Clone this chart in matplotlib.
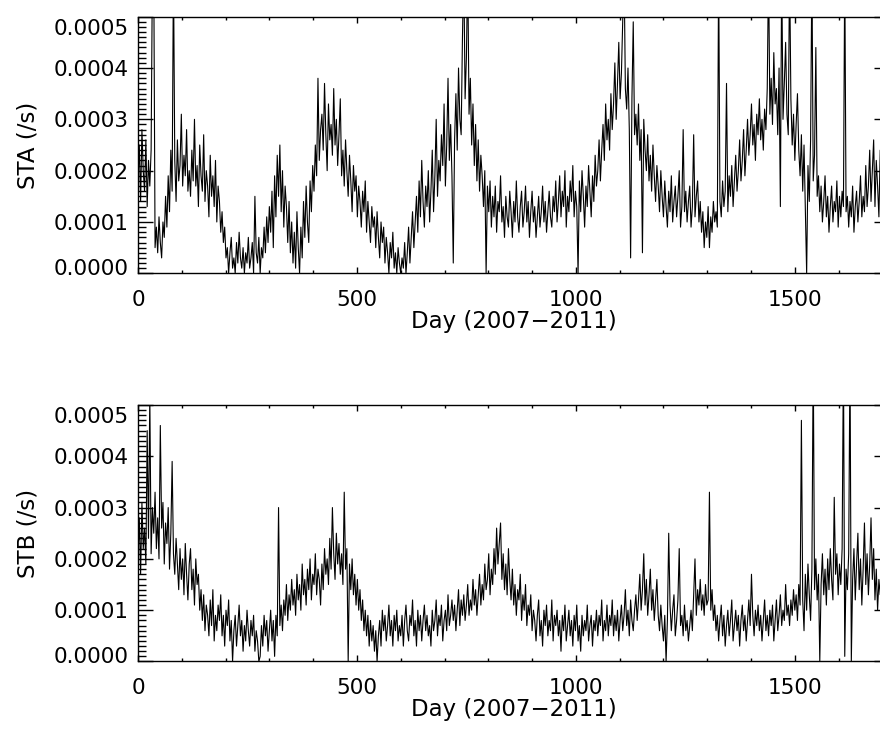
import numpy as np
import matplotlib
matplotlib.use('Agg')
import matplotlib.pyplot as plt
import matplotlib.transforms as mtransforms
from matplotlib.ticker import MultipleLocator, FormatStrFormatter

# ---------------------
# DATA (rates in units of 1e-5 /s, one value every 3 days)
# ---------------------
step_days = 3

sta_rate = [
    18, 25, 14, 28, 20, 16, 26, 13, 22, 17, 24, 60, 60, 5, 9, 4, 11, 6, 3, 10,
    7, 15, 9, 19, 12, 24, 16, 60, 22, 14, 26, 18, 21, 31, 17, 23, 19, 28, 16, 20,
    15, 24, 18, 30, 17, 21, 13, 25, 19, 16, 27, 14, 20, 17, 11, 23, 15, 19, 13, 22,
    10, 17, 14, 8, 12, 6, 9, 3, 5, 0, 4, 7, 1, 3, 0, 6, 2, 8, 3, 1,
    5, 0, 4, 2, 7, 1, 3, 6, 0, 15, 4, 2, 7, 0, 5, 3, 9, 4, 11, 6,
    13, 8, 16, 5, 19, 11, 23, 15, 25, 12, 20, 9, 17, 13, 6, 14, 4, 10, 2, 8,
    1, 12, 5, 0, 9, 3, 14, 7, 17, 10, 6, 18, 12, 21, 16, 25, 19, 38, 22, 28,
    31, 24, 37, 27, 20, 33, 26, 29, 23, 36, 25, 30, 21, 27, 34, 19, 24, 17, 26, 20,
    15, 23, 18, 12, 21, 16, 19, 11, 17, 14, 9, 16, 12, 18, 8, 14, 10, 6, 13, 9,
    11, 5, 12, 7, 3, 10, 6, 9, 2, 7, 4, 0, 6, 3, 8, 1, 4, 0, 5, 2,
    0, 3, 1, 6, 0, 4, 9, 2, 7, 12, 5, 10, 15, 8, 18, 11, 22, 14, 9, 17,
    13, 20, 10, 16, 24, 12, 19, 30, 15, 22, 18, 27, 21, 33, 17, 25, 38, 22, 29, 19,
    2, 26, 35, 24, 40, 30, 27, 46, 60, 34, 42, 60, 31, 38, 25, 33, 21, 29, 18, 26,
    16, 23, 19, 13, 20, 0, 17, 12, 18, 9, 15, 11, 17, 8, 14, 12, 19, 10, 13, 7,
    15, 11, 9, 16, 12, 7, 14, 10, 18, 11, 8, 13, 16, 9, 12, 17, 10, 14, 7, 12,
    16, 10, 13, 7, 11, 15, 9, 12, 17, 10, 14, 8, 12, 16, 11, 9, 15, 12, 18, 10,
    14, 19, 11, 16, 13, 20, 9, 15, 12, 18, 14, 21, 11, 16, 13, 0, 18, 12, 20, 15,
    9, 17, 13, 21, 16, 11, 19, 14, 23, 17, 20, 26, 18, 24, 29, 22, 33, 26, 30, 24,
    35, 28, 33, 41, 30, 37, 45, 34, 39, 49, 60, 36, 32, 40, 28, 3, 34, 49, 27, 31,
    25, 33, 22, 28, 4, 30, 24, 20, 27, 18, 23, 16, 25, 19, 14, 21, 17, 12, 20, 15,
    11, 18, 13, 9, 16, 12, 19, 10, 14, 17, 11, 15, 20, 9, 13, 28, 12, 16, 10, 14,
    17, 9, 13, 27, 11, 15, 18, 10, 14, 8, 12, 5, 10, 7, 13, 5, 11, 8, 14, 10,
    12, 9, 60, 14, 11, 18, 13, 16, 37, 12, 19, 15, 21, 13, 18, 23, 16, 20, 26, 18,
    22, 28, 19, 24, 30, 23, 27, 33, 25, 29, 22, 31, 27, 34, 26, 30, 24, 32, 28, 36,
    60, 31, 38, 29, 43, 33, 36, 27, 40, 13, 60, 30, 37, 45, 31, 27, 60, 34, 25, 31,
    22, 29, 35, 24, 19, 27, 16, 25, 12, 0, 21, 14, 26, 60, 18, 23, 44, 15, 19, 12,
    17, 10, 14, 19, 11, 15, 8, 13, 17, 10, 14, 12, 18, 9, 15, 11, 16, 13, 60, 12,
    15, 9, 14, 11, 17, 8, 13, 16, 10, 14, 19, 11, 15, 12, 21, 13, 17, 24, 14, 20,
    26, 13, 22, 17, 11, 24, 16, 20, 13, 18, 15, 21,
]

stb_rate = [
    20, 28, 17, 31, 22, 26, 19, 45, 24, 52, 21, 30, 25, 33, 22, 28, 20, 46, 26, 31,
    19, 27, 23, 30, 18, 25, 39, 21, 17, 24, 19, 14, 22, 16, 20, 13, 23, 17, 12, 19,
    22, 14, 18, 11, 20, 15, 17, 10, 14, 8, 13, 6, 11, 9, 5, 12, 7, 14, 4, 9,
    6, 11, 8, 13, 5, 9, 3, 10, 7, 12, 4, 8, 0, 6, 9, 3, 7, 11, 5, 8,
    2, 7, 4, 10, 6, 3, 8, 5, 9, 2, 6, 4, 0, 1, 7, 3, 9, 5, 8, 2,
    6, 10, 4, 8, 1, 9, 5, 30, 7, 11, 6, 12, 9, 15, 8, 13, 10, 16, 11, 14,
    9, 17, 12, 15, 10, 19, 13, 16, 11, 18, 14, 20, 12, 17, 15, 21, 13, 18, 16, 11,
    19, 14, 22, 17, 20, 15, 24, 18, 30, 21, 16, 25, 19, 23, 17, 21, 15, 33, 18, 22,
    0, 19, 14, 20, 13, 17, 11, 16, 10, 14, 8, 12, 6, 10, 5, 9, 3, 8, 4, 7,
    2, 6, 0, 5, 8, 3, 10, 6, 9, 4, 7, 11, 5, 8, 3, 9, 6, 10, 4, 7,
    5, 9, 3, 8, 11, 6, 4, 9, 7, 12, 5, 8, 3, 10, 6, 9, 4, 8, 11, 6,
    9, 5, 7, 3, 10, 6, 8, 12, 5, 9, 7, 11, 4, 8, 10, 6, 13, 7, 9, 12,
    8, 11, 6, 10, 14, 7, 12, 9, 13, 8, 11, 15, 9, 12, 10, 16, 11, 14, 9, 13,
    17, 11, 15, 12, 19, 14, 16, 21, 13, 18, 15, 22, 17, 26, 19, 23, 27, 16, 21, 14,
    19, 13, 22, 16, 12, 18, 11, 15, 9, 14, 12, 17, 8, 13, 10, 15, 7, 11, 9, 13,
    6, 10, 8, 4, 9, 12, 5, 8, 3, 10, 7, 11, 5, 8, 6, 12, 4, 9, 7, 10,
    5, 8, 2, 9, 6, 11, 4, 7, 10, 5, 8, 3, 9, 6, 11, 4, 7, 2, 9, 5,
    8, 6, 11, 4, 7, 9, 3, 8, 6, 10, 5, 9, 7, 12, 4, 8, 6, 11, 5, 9,
    7, 12, 5, 9, 6, 10, 4, 8, 11, 6, 9, 14, 7, 10, 5, 12, 8, 6, 10, 13,
    8, 12, 17, 10, 14, 21, 11, 16, 9, 13, 18, 10, 14, 8, 12, 16, 9, 6, 11, 7,
    4, 9, 0, 8, 25, 11, 6, 10, 13, 5, 8, 12, 22, 7, 9, 5, 11, 6, 8, 4,
    7, 10, 6, 13, 20, 9, 14, 11, 16, 10, 13, 9, 15, 11, 12, 33, 10, 14, 8, 11,
    6, 9, 4, 8, 11, 5, 9, 3, 7, 10, 5, 8, 12, 4, 7, 10, 6, 9, 3, 8,
    11, 6, 9, 4, 8, 12, 7, 17, 9, 5, 10, 7, 11, 6, 9, 4, 8, 12, 6, 9,
    5, 10, 7, 11, 4, 8, 12, 6, 9, 13, 7, 10, 8, 15, 9, 11, 7, 12, 9, 14,
    10, 13, 8, 15, 11, 47, 12, 6, 17, 10, 19, 13, 8, 18, 60, 14, 20, 12, 17, 0,
    15, 21, 13, 18, 11, 20, 14, 22, 16, 12, 32, 17, 21, 13, 19, 15, 22, 60, 1, 18,
    14, 21, 60, 0, 16, 22, 12, 19, 25, 14, 20, 11, 18, 27, 15, 21, 13, 19, 28, 16,
    22, 12, 18, 10, 16, 13, 20, 11, 17, 14, 19, 12,
]

panel_labels = ['STA (/s)', 'STB (/s)']
x_label = 'Day (2007\u22122011)'
x_max = 1715
y_max = 0.0005

plt.rcParams['font.family'] = ['DejaVu Sans']

fig = plt.figure(figsize=(8.8, 7.29), dpi=100)
ax_top = fig.add_axes([0.1568, 0.6251, 0.8534, 0.352])
ax_bot = fig.add_axes([0.1568, 0.0926, 0.8534, 0.3519])

for ax, rate, label in [(ax_top, sta_rate, panel_labels[0]), (ax_bot, stb_rate, panel_labels[1])]:
    days = np.arange(len(rate)) * step_days
    values = np.array(rate) * 1e-5
    ax.plot(days, values, color='black', linewidth=0.8)
    ax.set_xlim(0, x_max)
    ax.set_ylim(0, y_max)
    ax.xaxis.set_major_locator(MultipleLocator(500))
    ax.xaxis.set_minor_locator(MultipleLocator(100))
    ax.yaxis.set_major_locator(MultipleLocator(0.0001))
    ax.yaxis.set_minor_locator(MultipleLocator(0.00001))
    ax.yaxis.set_major_formatter(FormatStrFormatter('%.4f'))
    ax.tick_params(axis='both', which='both', direction='in', top=True, right=True,
                   labelsize=15.5, width=1.0, color='black')
    ax.tick_params(axis='x', which='major', length=4, pad=12)
    ax.tick_params(axis='x', which='minor', length=2.2)
    ax.tick_params(axis='y', which='major', length=10.5, pad=7)
    ax.tick_params(axis='y', which='minor', length=5.5)
    for spine in ax.spines.values():
        spine.set_linewidth(1.0)
    ax.set_xlabel(x_label, fontsize=16.5, labelpad=0)
    ax.set_ylabel(label, fontsize=16.5, labelpad=10)

    # IDL keeps the end labels inside the box: nudge them inward (shift in inches)
    fig.canvas.draw()
    for tick in ax.yaxis.get_major_ticks():
        val = tick.get_loc()
        if abs(val - y_max) < 1e-9:
            shift = mtransforms.ScaledTranslation(0, -0.10, fig.dpi_scale_trans)
            tick.label1.set_transform(tick.label1.get_transform() + shift)
        elif abs(val) < 1e-9:
            shift = mtransforms.ScaledTranslation(0, 0.06, fig.dpi_scale_trans)
            tick.label1.set_transform(tick.label1.get_transform() + shift)

fig.savefig('out.png', dpi=100)
